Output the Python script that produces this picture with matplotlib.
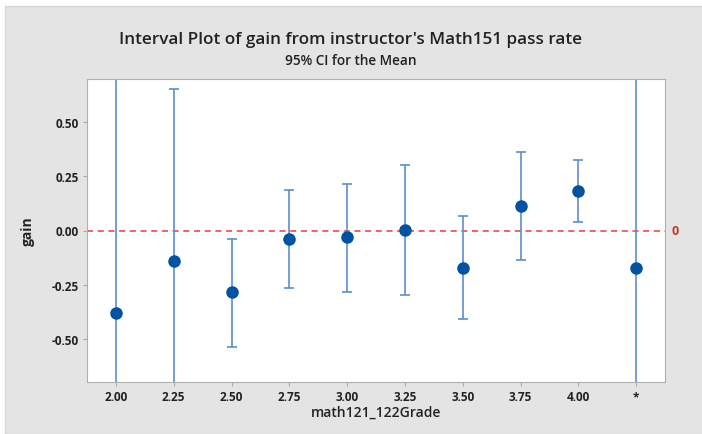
import matplotlib.pyplot as plt
from matplotlib.patches import Rectangle

grades = ["2.00", "2.25", "2.50", "2.75", "3.00", "3.25", "3.50", "3.75", "4.00", "*"]
means = [-0.38, -0.14, -0.284, -0.038, -0.031, 0.003, -0.174, 0.115, 0.184, -0.174]
lower = [-1.40, -0.93, -0.537, -0.267, -0.284, -0.300, -0.409, -0.137, 0.037, -1.20]
upper = [0.85, 0.654, -0.038, 0.189, 0.217, 0.304, 0.065, 0.364, 0.327, 0.85]

plt.rcParams['font.family'] = ['Open Sans', 'DejaVu Sans']

fig = plt.figure(figsize=(7.02, 4.35), dpi=100, facecolor='white')
fig.patches.append(Rectangle((5 / 702, 0), 1, 1 - 7 / 435, transform=fig.transFigure,
                             facecolor='#e4e4e4', edgecolor='#d8d8d8', lw=1, zorder=-10))

ax = fig.add_axes([87 / 702, 1 - 383 / 435, (665 - 87) / 702, (383 - 80) / 435])
ax.set_facecolor('white')

x = list(range(len(grades)))
yerr = [[m - lo for m, lo in zip(means, lower)], [hi - m for m, hi in zip(means, upper)]]
ax.errorbar(x, means, yerr=yerr, fmt='none', ecolor='#5a8fcc', elinewidth=1.2,
            capsize=3.6, capthick=1.2, zorder=2)
ax.plot(x, means, 'o', color='#0052a3', markersize=8, zorder=3)

ax.axhline(0, color='#ee3b3b', ls=(0, (4, 3)), lw=1.1, zorder=1)
ax.text(1.012, 0, "0", transform=ax.get_yaxis_transform(), color='#c0392b',
        fontsize=9, fontweight='bold', va='center', ha='left')

ax.set_xlim(-0.5, 9.5)
ax.set_ylim(-0.70, 0.70)
ax.set_xticks(x)
ax.set_xticklabels(grades)
ax.set_yticks([-0.50, -0.25, 0.0, 0.25, 0.50])
ax.set_yticklabels(["-0.50", "-0.25", "0.00", "0.25", "0.50"])
ax.tick_params(colors='#aaaaaa', labelcolor='#222222', labelsize=8.5, length=3, pad=3)
for lab in ax.get_xticklabels() + ax.get_yticklabels():
    lab.set_fontweight('bold')
for s in ax.spines.values():
    s.set_color('#b0b0b0')

ax.set_xlabel("math121_122Grade", fontsize=10, fontweight='semibold', color='#222222', labelpad=1)
ax.set_ylabel("gain", fontsize=10, fontweight='bold', color='#222222', labelpad=12)

fig.text(0.5, 1 - 40 / 435, "Interval Plot of gain from instructor's Math151 pass rate",
         ha='center', va='center', fontsize=12.3, fontweight='semibold', color='#222222')
fig.text(0.5, 1 - 61 / 435, "95% CI for the Mean", ha='center', va='center',
         fontsize=9.8, fontweight='semibold', color='#222222')

fig.savefig("out.png", dpi=100, facecolor=fig.get_facecolor())
